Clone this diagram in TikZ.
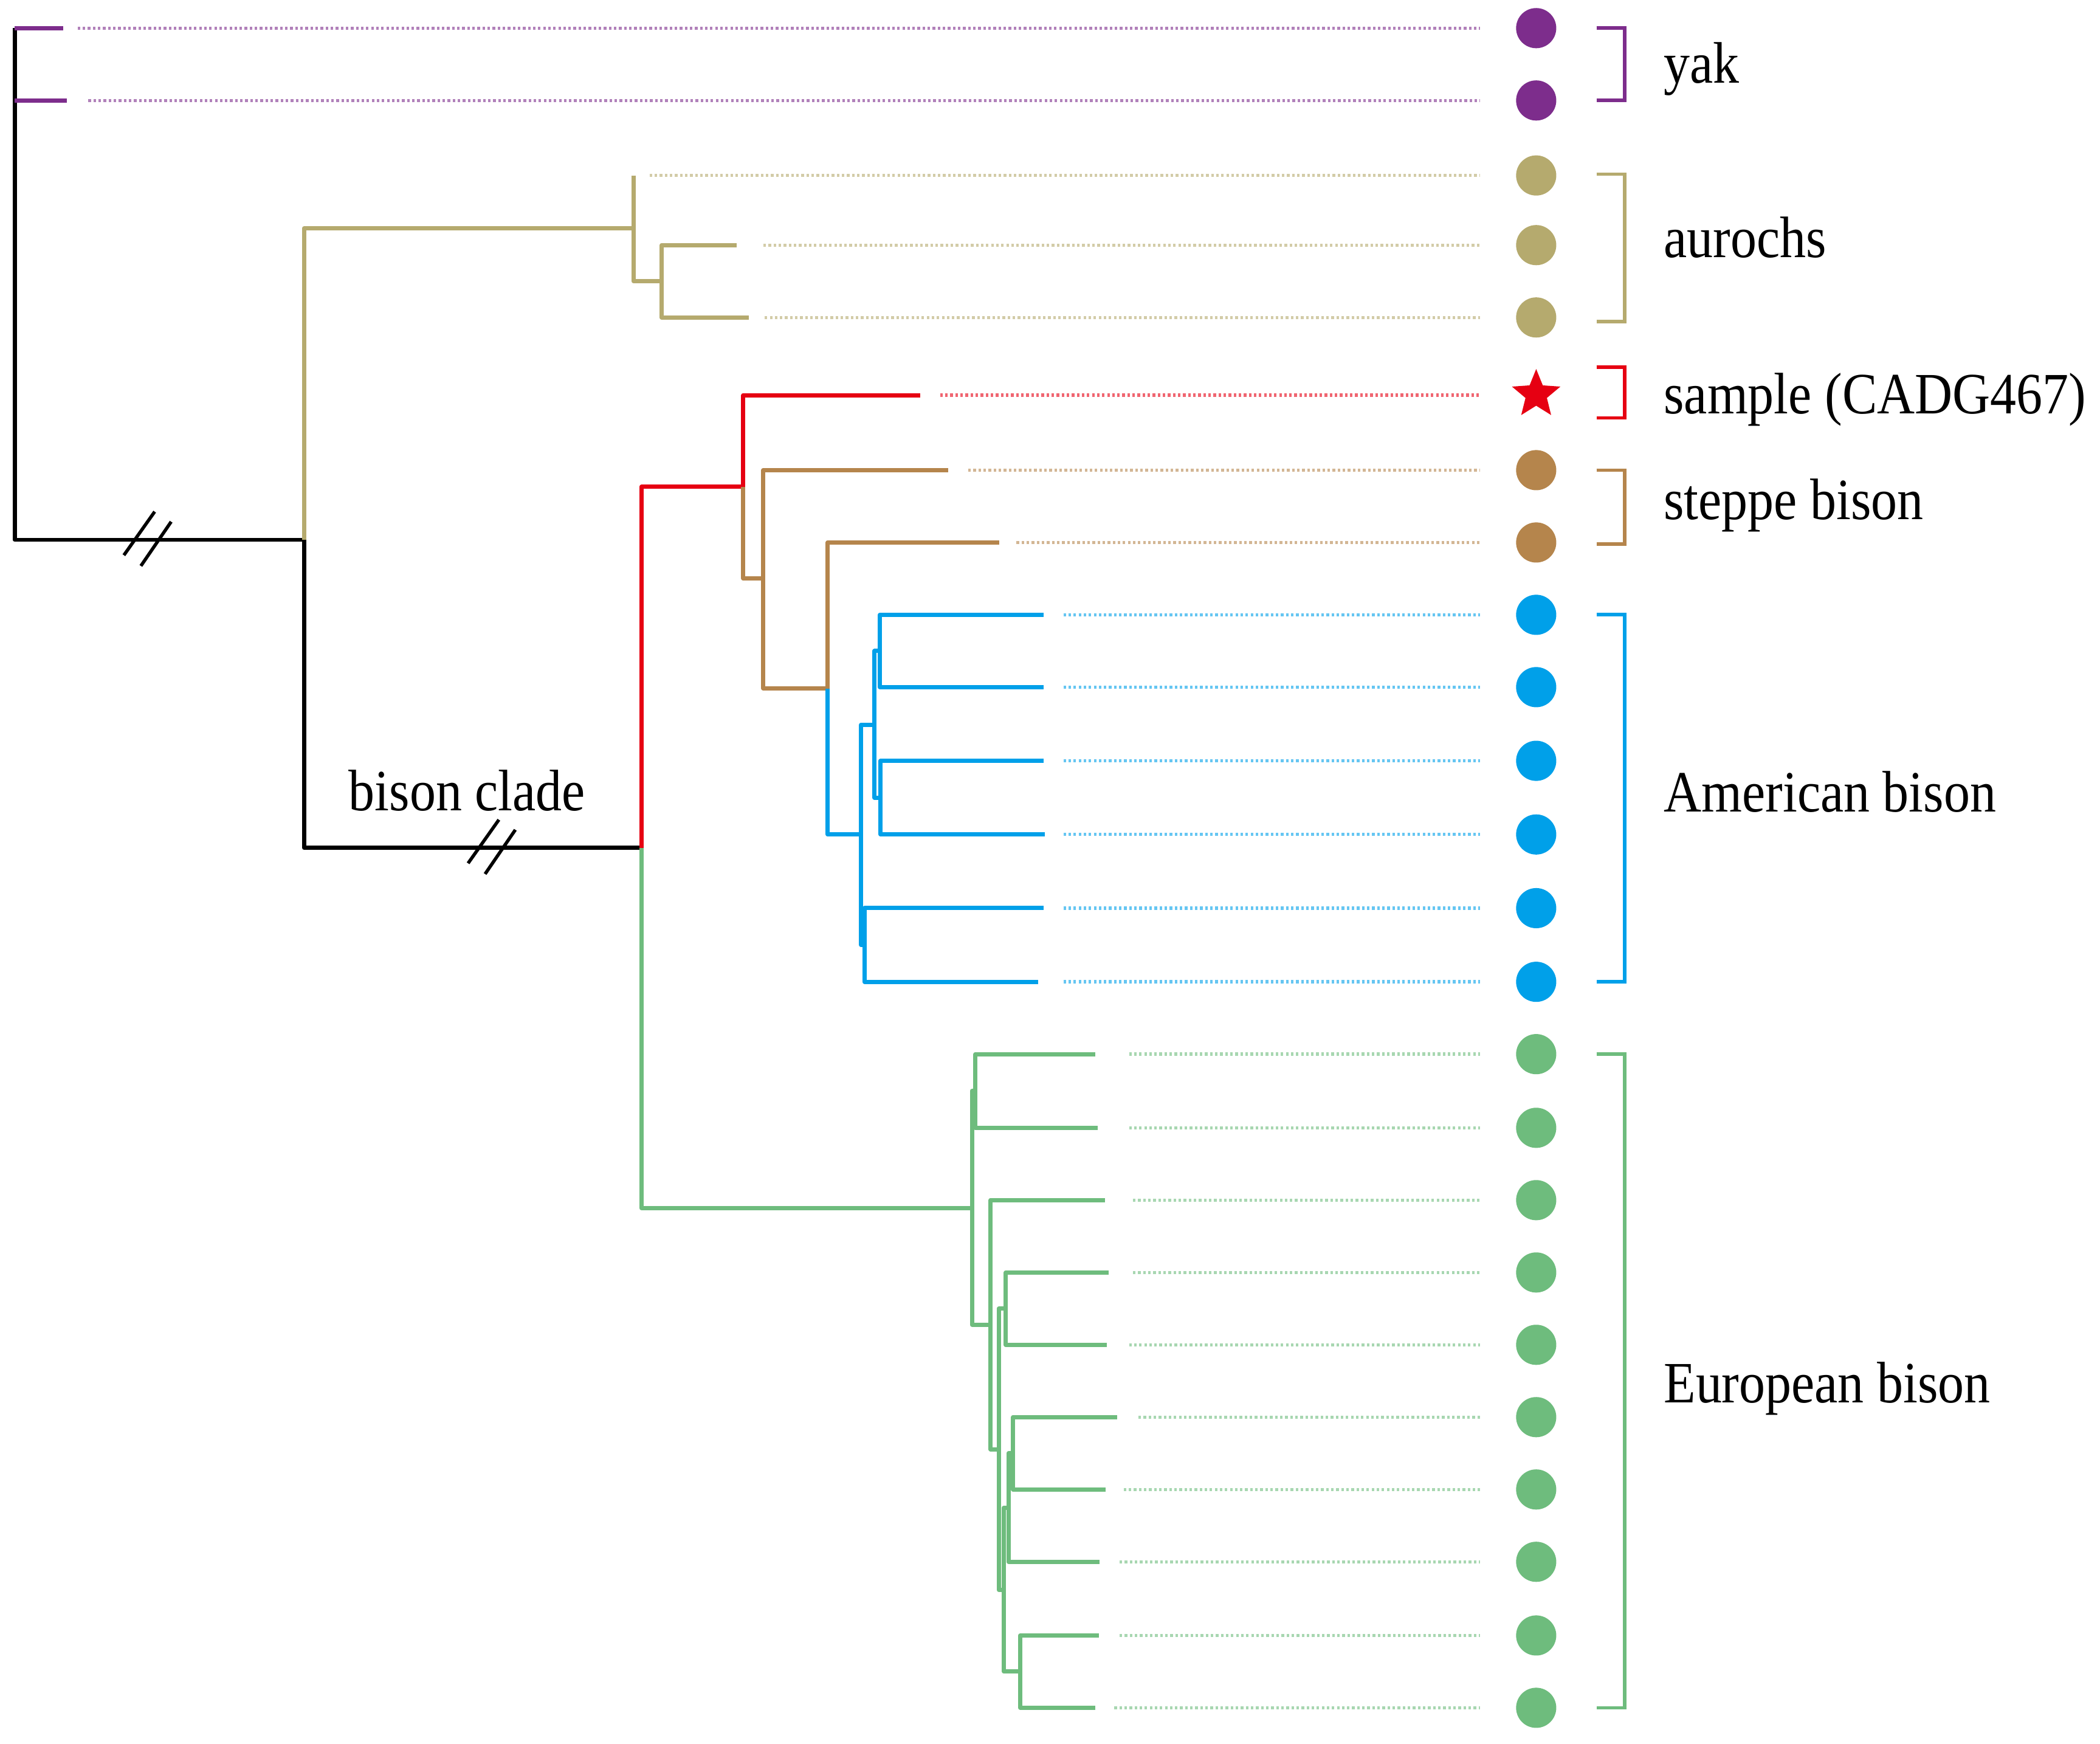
\documentclass[tikz,border=0pt]{standalone}
\usepackage{fontspec}
\setmainfont{Liberation Serif}
\definecolor{yakc}{RGB}{125,45,140}
\definecolor{aurc}{RGB}{181,170,110}
\definecolor{redc}{RGB}{230,0,18}
\definecolor{brnc}{RGB}{181,133,76}
\definecolor{bluc}{RGB}{0,160,233}
\definecolor{grnc}{RGB}{110,188,125}
\newcommand{\tallt}[1]{\scalebox{1}[1.12]{#1}}
\begin{document}
\begin{tikzpicture}[x=0.02cm,y=-0.02cm,
  br/.style={line width=1.8pt, line join=round},
  dt/.style={line width=1.4pt, dash pattern=on 1.1pt off 1.05pt},
  brk/.style={line width=1.5pt},
  lab/.style={anchor=base west, inner sep=0pt, font=\fontsize{22.2}{26}\selectfont},
  dotn/.style={circle, inner sep=0pt, minimum size=0.6cm},
  hashl/.style={line width=1.4pt, draw=black}]
\useasboundingbox (0,0) rectangle (1568,1302);

% ---------- coordinates of the tree ----------
\coordinate (rtop) at (11,21);
\coordinate (rmid) at (11,75);
\coordinate (root) at (11,403);
\coordinate (yk1) at (47,21);
\coordinate (yk2) at (50,75);
\coordinate (P) at (227,403);
\coordinate (Au) at (473,170.5);
\coordinate (au1t) at (473,131);
\coordinate (Au2) at (494,210);
\coordinate (au2t) at (550,183);
\coordinate (au3t) at (559,237);
\coordinate (Bc) at (479,633);
\coordinate (R2) at (555,363.5);
\coordinate (samt) at (687,295);
\coordinate (S1) at (570,432);
\coordinate (st1t) at (708,351);
\coordinate (S2) at (618,514);
\coordinate (st2t) at (746,405);
\coordinate (A) at (643,623);
\coordinate (B) at (653,541);
\coordinate (C) at (645.5,705.5);
\coordinate (D) at (657,486);
\coordinate (E) at (657.5,595.5);
\coordinate (am1t) at (779,459);
\coordinate (am2t) at (779,513);
\coordinate (am3t) at (779,568);
\coordinate (am4t) at (780,623);
\coordinate (am5t) at (779,678);
\coordinate (am6t) at (775,733);
\coordinate (F) at (725.7,902);
\coordinate (G) at (728.3,814.5);
\coordinate (H) at (739.6,989);
\coordinate (I) at (745.7,1082);
\coordinate (J) at (751,977);
\coordinate (K) at (749.5,1187);
\coordinate (L) at (753,1125.5);
\coordinate (M) at (756.4,1085);
\coordinate (N) at (761.8,1248);
\coordinate (eu1t) at (818,787);
\coordinate (eu2t) at (819.5,842);
\coordinate (eu3t) at (825,896);
\coordinate (eu4t) at (828,950);
\coordinate (eu5t) at (826.5,1004);
\coordinate (eu6t) at (834,1058);
\coordinate (eu7t) at (825.6,1112);
\coordinate (eu8t) at (821,1166);
\coordinate (eu9t) at (820.5,1221);
\coordinate (eu10t) at (817.7,1275);
\coordinate (h1) at (110,403);
\coordinate (h2) at (367,633);

% ---------- branches ----------
\draw[br,black] (rtop) -- (root) -- (P) -- (P |- Bc) -- (Bc);
\draw[br,yakc] (rtop) -- (yk1);
\draw[br,yakc] (rmid) -- (yk2);
\draw[br,aurc] (P) |- (Au);
\draw[br,aurc] (au1t) -- (Au) |- (Au2);
\draw[br,aurc] (Au2) |- (au2t);
\draw[br,aurc] (Au2) |- (au3t);
\draw[br,redc] (Bc) |- (R2);
\draw[br,redc] (R2) |- (samt);
\draw[br,brnc] (R2) |- (S1);
\draw[br,brnc] (S1) |- (st1t);
\draw[br,brnc] (S1) |- (S2);
\draw[br,brnc] (S2) |- (st2t);
\draw[br,bluc] (S2) |- (A);
\draw[br,bluc] (A) |- (B);
\draw[br,bluc] (A) |- (C);
\draw[br,bluc] (B) |- (D);
\draw[br,bluc] (B) |- (E);
\draw[br,bluc] (D) |- (am1t);
\draw[br,bluc] (D) |- (am2t);
\draw[br,bluc] (E) |- (am3t);
\draw[br,bluc] (E) |- (am4t);
\draw[br,bluc] (C) |- (am5t);
\draw[br,bluc] (C) |- (am6t);
\draw[br,grnc] (Bc) |- (F);
\draw[br,grnc] (F) |- (G);
\draw[br,grnc] (F) |- (H);
\draw[br,grnc] (G) |- (eu1t);
\draw[br,grnc] (G) |- (eu2t);
\draw[br,grnc] (H) |- (eu3t);
\draw[br,grnc] (H) |- (I);
\draw[br,grnc] (I) |- (J);
\draw[br,grnc] (I) |- (K);
\draw[br,grnc] (J) |- (eu4t);
\draw[br,grnc] (J) |- (eu5t);
\draw[br,grnc] (K) |- (L);
\draw[br,grnc] (K) |- (N);
\draw[br,grnc] (L) |- (M);
\draw[br,grnc] (L) |- (eu8t);
\draw[br,grnc] (M) |- (eu6t);
\draw[br,grnc] (M) |- (eu7t);
\draw[br,grnc] (N) |- (eu9t);
\draw[br,grnc] (N) |- (eu10t);

% ---------- break marks ----------
\foreach \h in {h1,h2}{
  \draw[hashl] ([shift={(-17.5,11.5)}]\h) -- ([shift={(5.5,-21)}]\h);
  \draw[hashl] ([shift={(-4.8,19.5)}]\h) -- ([shift={(17.8,-13.5)}]\h);
}
\node[anchor=base, inner sep=0pt, font=\fontsize{22.2}{26}\selectfont] (bclab) at (348.7,605) {\tallt{bison clade}};

% ---------- dotted leaders ----------
\foreach \x/\y/\c in {58/21/yakc,66/75/yakc,485/131/aurc,570/183/aurc,571/237/aurc,
  702/295/redc,723/351/brnc,759/405/brnc,
  794/459/bluc,794/513/bluc,794/568/bluc,794/623/bluc,794/678/bluc,794/733/bluc,
  843/787/grnc,843/842/grnc,846/896/grnc,846/950/grnc,843/1004/grnc,
  850/1058/grnc,839/1112/grnc,836/1166/grnc,836/1221/grnc,832/1275/grnc}{
  \draw[dt,\c!60] (\x,\y) -- (1105,\y);
}

% ---------- tip symbols ----------
\foreach \y/\c [count=\i] in {21/yakc,75/yakc,131/aurc,183/aurc,237/aurc,
  351/brnc,405/brnc,
  459/bluc,513/bluc,568/bluc,623/bluc,678/bluc,733/bluc,
  787/grnc,842/grnc,896/grnc,950/grnc,1004/grnc,1058/grnc,1112/grnc,1166/grnc,1221/grnc,1275/grnc}{
  \node[dotn, fill=\c] (tip\i) at (1147,\y) {};
}
\coordinate (starc) at (1147,294.5);
\fill[redc] ([shift={(-90:19)}]starc)
  \foreach \k in {1,...,9}{
    -- ([shift={(-90+36*\k:{ifthenelse(mod(\k,2)==1,8.4,19)})}]starc)
  } -- cycle;

% ---------- brackets ----------
\draw[brk,yakc] (1192,21) -- (1213,21) -- (1213,75) -- (1192,75);
\draw[brk,aurc] (1192,130) -- (1213,130) -- (1213,240) -- (1192,240);
\draw[brk,redc] (1192,274) -- (1213,274) -- (1213,312) -- (1192,312);
\draw[brk,brnc] (1192,351) -- (1213,351) -- (1213,406) -- (1192,406);
\draw[brk,bluc] (1192,459) -- (1213,459) -- (1213,733) -- (1192,733);
\draw[brk,grnc] (1192,787) -- (1213,787) -- (1213,1275) -- (1192,1275);

% ---------- labels ----------
\node[lab] (lyak) at (1242,62) {\tallt{yak}};
\node[lab] (laur) at (1242,192) {\tallt{aurochs}};
\node[lab] (lsam) at (1242,309) {\tallt{sample (CADG467)}};
\node[lab] (lste) at (1242,388) {\tallt{steppe bison}};
\node[lab] (lame) at (1242,606) {\tallt{American bison}};
\node[lab] (leur) at (1242,1047) {\tallt{European bison}};
\end{tikzpicture}
\end{document}
